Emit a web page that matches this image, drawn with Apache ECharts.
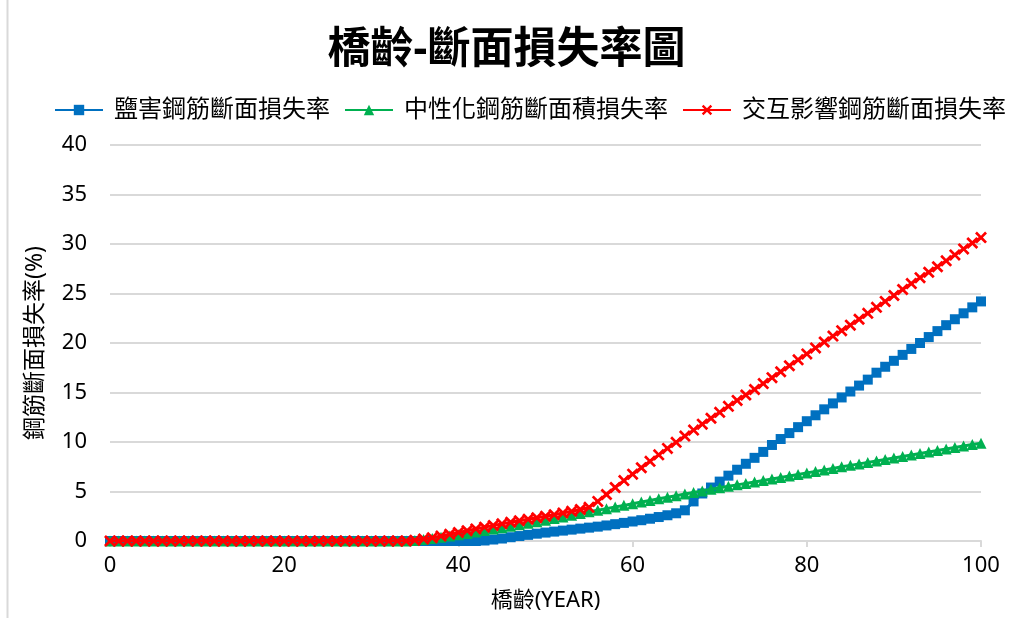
<!DOCTYPE html>
<html>
<head>
<meta charset="utf-8">
<script src="https://cdn.jsdelivr.net/npm/echarts@6/dist/echarts.min.js"></script>
<style>
    html, body { margin: 0; padding: 0; background: #fff; }
    #chart { width: 1013px; height: 618px; }
</style>
</head>
<body>
<div id="chart"></div>
<script>
// bridge age (years)
var years = [0,1,2,3,4,5,6,7,8,9,10,11,12,13,14,15,16,17,18,19,20,21,22,23,24,25,26,27,28,29,30,
    31,32,33,34,35,36,37,38,39,40,41,42,43,44,45,46,47,48,49,50,51,52,53,54,55,56,57,58,59,60,
    61,62,63,64,65,66,67,68,69,70,71,72,73,74,75,76,77,78,79,80,81,82,83,84,85,86,87,88,89,90,
    91,92,93,94,95,96,97,98,99,100];

// 鹽害
var saltLoss = [0,0,0,0,0,0,0,0,0,0,0,0,0,0,0,0,0,0,0,0,0,0,0,0,0,0,0,0,0,0,0,
    0,0,0,0,0,0,0,0,0,0,0,0,0.05,0.15,0.25,0.38,0.5,0.62,0.74,0.85,0.95,1.05,1.15,1.25,1.35,1.45,1.57,1.7,1.83,1.97,
    2.1,2.25,2.42,2.6,2.8,3.1,4.0,4.8,5.4,6.0,6.6,7.2,7.8,8.4,9.0,9.7,10.3,10.9,11.5,12.1,12.7,13.3,13.9,14.5,15.1,15.7,16.3,17.0,17.6,18.2,
    18.8,19.4,20.0,20.6,21.2,21.8,22.4,23.0,23.6,24.2];

// 中性化
var carbLoss = [0,0,0,0,0,0,0,0,0,0,0,0,0,0,0,0,0,0,0,0,0,0,0,0,0,0,0,0,0,0,0,
    0,0,0,0,0.05,0.15,0.25,0.37,0.5,0.63,0.77,0.91,1.05,1.2,1.35,1.5,1.65,1.8,1.95,2.1,2.27,2.43,2.6,2.77,2.95,3.1,3.27,3.43,3.6,3.77,
    3.93,4.1,4.26,4.42,4.58,4.74,4.9,5.06,5.22,5.37,5.52,5.67,5.82,5.97,6.12,6.27,6.42,6.57,6.72,6.88,7.03,7.18,7.33,7.49,7.64,7.79,7.94,8.09,8.24,8.39,
    8.54,8.69,8.84,8.99,9.14,9.29,9.44,9.59,9.74,9.88];

// 交互影響
var comboLoss = [0,0,0,0,0,0,0,0,0,0,0,0,0,0,0,0,0,0,0,0,0,0,0,0,0,0,0,0,0,0,0,
    0,0,0,0,0.08,0.2,0.33,0.5,0.68,0.86,1.04,1.22,1.4,1.57,1.73,1.89,2.05,2.2,2.35,2.5,2.66,2.83,3.0,3.18,3.4,4.0,4.7,5.4,6.1,6.75,
    7.4,8.05,8.7,9.35,9.97,10.6,11.2,11.8,12.4,13.0,13.6,14.2,14.75,15.3,15.9,16.5,17.1,17.7,18.3,18.9,19.5,20.1,20.7,21.25,21.8,22.4,23.0,23.6,24.2,24.8,
    25.4,26.0,26.6,27.15,27.7,28.3,28.9,29.5,30.1,30.65];

var seriesNames = ['鹽害鋼筋斷面損失率', '中性化鋼筋斷面積損失率', '交互影響鋼筋斷面損失率'];

function pairs(vals) {
    var out = [];
    for (var i = 0; i < years.length; i++) {
        out.push([years[i], vals[i]]);
    }
    return out;
}

var font = '"Noto Sans", "Noto Sans CJK TC", sans-serif';
// thick "x" marker
var crossSymbol = 'path://M0,1.6L1.6,0L5,3.4L8.4,0L10,1.6L6.6,5L10,8.4L8.4,10L5,6.6L1.6,10L0,8.4L3.4,5Z';

var chart = echarts.init(document.getElementById('chart'));

var option = {
    backgroundColor: '#fff',
    animation: false,
    title: {
        text: '橋齡-斷面損失率圖',
        left: 'center',
        top: 24,
        textStyle: {
            fontFamily: font,
            fontSize: 43,
            fontWeight: 'bold',
            color: '#000'
        }
    },
    legend: {
        left: 54,
        top: 98,
        width: 958,
        padding: 0,
        itemWidth: 48,
        itemHeight: 13,
        itemGap: 14,
        textStyle: {
            fontFamily: font,
            fontSize: 24,
            color: '#000',
            padding: [0, 0, 0, 6]
        },
        data: seriesNames
    },
    grid: {
        left: 110,
        right: 32,
        top: 145,
        bottom: 77,
        containLabel: false
    },
    xAxis: {
        type: 'value',
        min: 0,
        max: 100,
        interval: 20,
        name: '橋齡(YEAR)',
        nameLocation: 'middle',
        nameGap: 49,
        nameTextStyle: {
            fontFamily: font,
            fontSize: 22,
            color: '#000'
        },
        axisLine: {
            lineStyle: { color: '#d9d9d9', width: 2 }
        },
        axisTick: {
            show: true,
            length: 6,
            lineStyle: { color: '#d9d9d9', width: 2 }
        },
        splitLine: { show: false },
        axisLabel: {
            margin: 14,
            fontFamily: font,
            fontSize: 22,
            color: '#000'
        }
    },
    yAxis: {
        type: 'value',
        min: 0,
        max: 40,
        interval: 5,
        name: '鋼筋斷面損失率(%)',
        nameLocation: 'middle',
        nameGap: 63,
        nameRotate: 90,
        nameTextStyle: {
            fontFamily: font,
            fontSize: 23,
            color: '#000'
        },
        axisLine: { show: false },
        axisTick: { show: false },
        splitLine: {
            lineStyle: { color: '#d9d9d9', width: 2 }
        },
        axisLabel: {
            margin: 23,
            fontFamily: font,
            fontSize: 22,
            color: '#000'
        }
    },
    graphic: [{
        type: 'line',
        shape: { x1: 7.5, y1: 0, x2: 7.5, y2: 618 },
        style: { stroke: '#d9d9d9', lineWidth: 2 }
    }],
    series: [{
        name: seriesNames[0],
        type: 'line',
        data: pairs(saltLoss),
        symbol: 'rect',
        symbolSize: 10,
        color: '#0070C0',
        lineStyle: { width: 3 },
        z: 2
    }, {
        name: seriesNames[1],
        type: 'line',
        data: pairs(carbLoss),
        symbol: 'triangle',
        symbolSize: 11,
        color: '#00B050',
        lineStyle: { width: 3 },
        z: 3
    }, {
        name: seriesNames[2],
        type: 'line',
        data: pairs(comboLoss),
        symbol: crossSymbol,
        symbolSize: 12,
        color: '#FF0000',
        lineStyle: { width: 3 },
        z: 4
    }]
};

chart.setOption(option);
</script>
</body>
</html>
